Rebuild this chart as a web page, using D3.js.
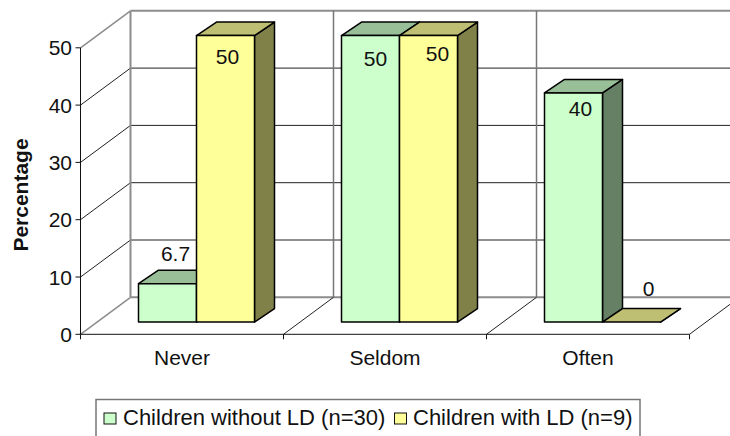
<!DOCTYPE html>
<html>
<head>
<meta charset="utf-8">
<script src="https://cdn.jsdelivr.net/npm/d3@7/dist/d3.min.js"></script>
<style>
html, body { margin: 0; padding: 0; background: #fff; }
svg { display: block; }
text { font-family: "Liberation Sans", Arial, sans-serif; fill: #111; }
</style>
</head>
<body>
<svg id="chart" width="730" height="436"></svg>
<script>
const categories = ["Never", "Seldom", "Often"];
const seriesNames = ["Children without LD (n=30)", "Children with LD (n=9)"];
const withoutLD = [6.7, 50, 40];
const withLD = [50, 50, 0];
const valueTicks = [0, 10, 20, 30, 40, 50];

const svg = d3.select("#chart");

// Oblique projection: floor depth shifts points right and up.
const wallDepth = { dx: 50, dy: -37 };
const barDepth = { dx: 20, dy: -13.5 };

const x = d3.scaleBand().domain(categories).range([80.5, 689.5]);
const xSeries = d3.scaleBand().domain([0, 1]).range([0, x.bandwidth()])
  .paddingInner(0).paddingOuter(0.75).align(2 / 3);
const y = d3.scaleLinear().domain([0, 50]).range([334.3, 47.8]);
const barBase = 12.2; // bars stand this far behind the front edge of the floor
const yBar = v => y(v) - barBase;

const fills = [
  { front: "#CCFFCC", top: "#99BF99", side: "#668066" },
  { front: "#FFFF99", top: "#BFBF73", side: "#808049" }
];
const wallGrey = "#8c8c8c";
const line = d3.line();

function stroke(points, color, width) {
  svg.append("path").attr("d", line(points)).attr("fill", "none")
    .attr("stroke", color).attr("stroke-width", width);
}

// Back wall and side wall gridlines
const xL = x.range()[0], xR = x.range()[1];
const backL = xL + wallDepth.dx;
const backR = xR + wallDepth.dx;
valueTicks.forEach(t => {
  const edge = t === 0 || t === 50;
  const color = edge ? wallGrey : "#222";
  const width = edge ? 2 : 1;
  stroke([[xL, y(t)], [backL, y(t) + wallDepth.dy]], edge ? wallGrey : "#222", edge ? 1.5 : 1);
  stroke([[backL, y(t) + wallDepth.dy], [backR, y(t) + wallDepth.dy]], color, width);
});
stroke([[backL, y(50) + wallDepth.dy], [backL, y(0) + wallDepth.dy]], wallGrey, 2);

// Back wall category dividers and floor dividers
categories.slice(1).forEach(c => {
  const bx = x(c) + wallDepth.dx;
  stroke([[bx, y(50) + wallDepth.dy], [bx, y(0) + wallDepth.dy]], "#777", 1.5);
});
categories.slice(1).concat(["end"]).forEach(c => {
  const fx = c === "end" ? xR : x(c);
  stroke([[fx, y(0)], [fx + wallDepth.dx, y(0) + wallDepth.dy]], "#222", 1);
});

// 3D bars, one category at a time so the nearer series overlaps the first
function drawBar(bx, w, v, f) {
  const top = yBar(v), base = yBar(0);
  const d = barDepth;
  const poly = (pts, fill) => svg.append("polygon")
    .attr("points", pts.map(p => p.join(",")).join(" "))
    .attr("fill", fill).attr("stroke", "#000").attr("stroke-width", 1.5)
    .attr("stroke-linejoin", "round");
  poly([[bx + w, base], [bx + w + d.dx, base + d.dy], [bx + w + d.dx, top + d.dy], [bx + w, top]], f.side);
  poly([[bx, top], [bx + d.dx, top + d.dy], [bx + w + d.dx, top + d.dy], [bx + w, top]], f.top);
  if (v > 0) poly([[bx, base], [bx + w, base], [bx + w, top], [bx, top]], f.front);
}
categories.forEach((c, i) => {
  [withoutLD, withLD].forEach((vals, s) => {
    drawBar(x(c) + xSeries(s), xSeries.bandwidth(), vals[i], fills[s]);
  });
});

// Front axes
stroke([[xL, y(0)], [xL, y(50)]], "#111", 1);
stroke([[xL, y(0)], [xR, y(0)]], "#111", 1);
valueTicks.forEach(t => {
  stroke([[xL - 5, y(t)], [xL, y(t)]], "#111", 1);
  svg.append("text").attr("x", 72).attr("y", y(t)).attr("dy", "0.36em")
    .attr("text-anchor", "end").attr("font-size", 21).text(t);
});
categories.concat(["end"]).forEach(c => {
  const fx = c === "end" ? xR : x(c);
  stroke([[fx, y(0)], [fx, y(0) + 5]], "#111", 1);
});
categories.forEach(c => {
  svg.append("text").attr("x", x(c) + x.bandwidth() / 2).attr("y", 365)
    .attr("text-anchor", "middle").attr("font-size", 21).text(c);
});

// Axis title
svg.append("text").attr("transform", "translate(28,195) rotate(-90)")
  .attr("text-anchor", "middle").attr("font-size", 21).attr("font-weight", "bold")
  .text("Percentage");

// Value labels; each is nudged off its bar the way the chart places them
const labelNudge = [
  [[8, -30], [5, 23], [7, 16]],
  [[2, 21], [9, 18], [17, -34]]
];
[withoutLD, withLD].forEach((vals, s) => {
  vals.forEach((v, i) => {
    const cx = x(categories[i]) + xSeries(s) + xSeries.bandwidth() / 2;
    const [nx, ny] = labelNudge[s][i];
    svg.append("text").attr("x", cx + nx).attr("y", yBar(v) + ny).attr("dy", "0.36em")
      .attr("text-anchor", "middle").attr("font-size", 21).text(v);
  });
});

// Legend: the frame runs past the lower edge of the page
svg.append("rect").attr("x", 96).attr("y", 399.5).attr("width", 544).attr("height", 60)
  .attr("fill", "#fff").attr("stroke", "#777").attr("stroke-width", 1.5);
const legendX = [{ swatch: 104, text: 123 }, { swatch: 394.5, text: 413 }];
seriesNames.forEach((name, s) => {
  svg.append("rect").attr("x", legendX[s].swatch).attr("y", 413).attr("width", 12).attr("height", 11)
    .attr("fill", fills[s].front).attr("stroke", "#111").attr("stroke-width", 1);
  svg.append("text").attr("x", legendX[s].text).attr("y", 424.5)
    .attr("font-size", 22).text(name);
});
</script>
</body>
</html>
